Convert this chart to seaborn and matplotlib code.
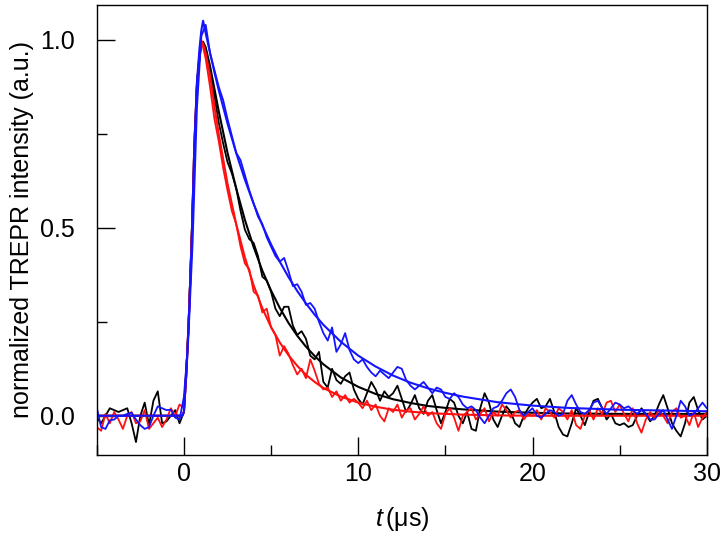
import numpy as np
import matplotlib
matplotlib.use("Agg")
import matplotlib.pyplot as plt
from matplotlib.ticker import MultipleLocator
import seaborn as sns
import pandas as pd

# time axis of the measured traces (0.25 us steps, -5 .. 30 us)
t = np.arange(141) * 0.25 - 5.0

black = [
    -0.005, -0.020, 0.000, 0.020, 0.015, 0.010, 0.015, 0.020, -0.020, -0.070,
    0.000, 0.035, -0.025, 0.040, 0.065, -0.020, -0.015, 0.000, 0.015, -0.020,
    0.010, 0.220, 0.560, 0.890, 0.990, 0.975, 0.915, 0.850, 0.780, 0.725,
    0.675, 0.645, 0.605, 0.545, 0.495, 0.470, 0.460, 0.425, 0.370, 0.360,
    0.330, 0.285, 0.265, 0.290, 0.290, 0.240, 0.215, 0.225, 0.205, 0.160,
    0.150, 0.170, 0.090, 0.075, 0.125, 0.095, 0.085, 0.105, 0.115, 0.070,
    0.045, 0.030, 0.060, 0.090, 0.070, 0.040, 0.065, 0.050, 0.060, 0.080,
    0.045, 0.010, 0.030, 0.055, 0.020, 0.005, 0.040, 0.055, 0.015, -0.020,
    0.010, 0.045, 0.035, 0.000, -0.020, 0.010, -0.035, -0.040, 0.020, 0.060,
    0.035, -0.010, -0.030, 0.000, 0.025, 0.010, -0.020, -0.030, 0.000, 0.020,
    0.035, 0.045, 0.020, 0.025, 0.045, 0.010, -0.030, -0.050, -0.055, -0.020,
    0.020, 0.000, -0.025, 0.010, 0.040, 0.045, 0.020, -0.010, 0.005, -0.020,
    -0.025, -0.020, -0.030, -0.025, 0.000, 0.020, 0.005, -0.015, 0.000, 0.030,
    0.055, 0.020, -0.020, -0.040, -0.055, -0.020, 0.035, 0.050, 0.015, -0.010,
    0.000,
]

blue = [
    0.022, -0.030, -0.035, -0.012, -0.010, 0.000, 0.000, 0.005, 0.008, -0.010,
    -0.025, -0.035, -0.030, 0.000, 0.025, 0.020, 0.015, 0.016, -0.005, -0.010,
    0.050, 0.200, 0.460, 0.820, 1.010, 1.040, 0.965, 0.920, 0.875, 0.840,
    0.790, 0.745, 0.700, 0.680, 0.640, 0.600, 0.565, 0.530, 0.510, 0.475,
    0.450, 0.425, 0.410, 0.420, 0.385, 0.345, 0.350, 0.330, 0.295, 0.300,
    0.285, 0.250, 0.220, 0.200, 0.235, 0.170, 0.190, 0.220, 0.175, 0.150,
    0.140, 0.150, 0.130, 0.115, 0.105, 0.120, 0.110, 0.100, 0.115, 0.130,
    0.125, 0.095, 0.080, 0.070, 0.080, 0.090, 0.075, 0.060, 0.075, 0.070,
    0.050, 0.045, 0.060, 0.050, 0.030, 0.020, 0.025, 0.015, -0.005, -0.020,
    0.000, 0.020, 0.025, 0.040, 0.060, 0.070, 0.050, 0.015, 0.000, 0.010,
    0.020, 0.000, -0.005, 0.005, 0.015, 0.010, 0.000, 0.005, 0.040, 0.055,
    0.030, 0.010, 0.005, 0.015, 0.035, 0.040, 0.020, 0.005, 0.020, 0.035,
    0.030, 0.020, 0.025, 0.015, 0.005, 0.015, 0.005, -0.010, -0.010, 0.005,
    0.015, -0.010, -0.035, 0.000, 0.040, 0.025, 0.000, 0.005, 0.020, 0.035,
    0.020,
]

red = [
    -0.030, -0.040, 0.005, -0.020, 0.010, -0.010, -0.035, 0.000, 0.010, -0.020,
    -0.015, 0.015, -0.035, -0.020, -0.005, -0.030, -0.010, 0.020, 0.000, 0.030,
    0.020, 0.220, 0.550, 0.880, 1.000, 0.950, 0.875, 0.790, 0.730, 0.660,
    0.600, 0.545, 0.510, 0.450, 0.405, 0.390, 0.330, 0.320, 0.275, 0.285,
    0.235, 0.215, 0.160, 0.185, 0.165, 0.135, 0.110, 0.125, 0.100, 0.150,
    0.120, 0.085, 0.070, 0.075, 0.050, 0.065, 0.040, 0.055, 0.035, 0.045,
    0.035, 0.020, 0.040, 0.015, 0.030, 0.000, -0.015, 0.020, 0.010, 0.030,
    -0.005, 0.015, 0.020, -0.010, 0.005, 0.025, 0.000, 0.010, -0.020, -0.035,
    0.005, 0.020, -0.005, -0.040, 0.000, 0.010, 0.020, -0.010, 0.005, 0.020,
    -0.015, 0.010, 0.000, 0.030, 0.015, -0.005, 0.010, 0.015, -0.010, 0.005,
    0.000, 0.015, -0.010, 0.020, 0.010, -0.005, 0.020, 0.010, -0.010, 0.015,
    -0.025, -0.035, 0.000, 0.015, -0.010, 0.020, 0.005, 0.035, 0.040, 0.010,
    0.030, 0.005, -0.015, 0.020, -0.020, -0.045, -0.010, 0.010, -0.005, 0.015,
    0.000, -0.020, 0.010, 0.020, -0.005, 0.000, -0.025, 0.010, -0.030, -0.005,
    0.010,
]

# fitted curves
fit_t = [-5, -0.1, 0, 0.15, 0.3, 0.45, 0.6, 0.75, 0.9, 1.0, 1.1, 1.25, 1.5, 1.75,
         2.0, 2.5, 3.0, 3.5, 4.0, 4.5, 5.0, 5.5, 6.0, 6.5, 7.0, 7.5, 8.0, 9.0,
         10, 11, 12, 13, 14, 15, 16, 18, 20, 22, 25, 30]
fit_black = [0.0, 0.0, 0.01, 0.12, 0.28, 0.47, 0.72, 0.88, 0.96, 0.99, 0.995, 0.98,
             0.93, 0.87, 0.81, 0.70, 0.605, 0.521, 0.449, 0.386, 0.333, 0.287,
             0.247, 0.213, 0.184, 0.159, 0.137, 0.102, 0.077, 0.058, 0.044, 0.034,
             0.026, 0.021, 0.017, 0.011, 0.008, 0.006, 0.005, 0.005]
fit_blue = [0.0, 0.0, 0.01, 0.12, 0.28, 0.47, 0.72, 0.89, 0.98, 1.025, 1.051, 1.018,
            0.965, 0.914, 0.866, 0.778, 0.699, 0.628, 0.564, 0.507, 0.456, 0.41,
            0.369, 0.332, 0.299, 0.269, 0.242, 0.197, 0.16, 0.131, 0.107, 0.088,
            0.073, 0.061, 0.051, 0.036, 0.027, 0.021, 0.016, 0.012]
fit_red = [0.0, 0.0, 0.01, 0.12, 0.28, 0.47, 0.72, 0.88, 0.965, 0.995, 0.99, 0.965,
           0.905, 0.824, 0.749, 0.618, 0.51, 0.421, 0.347, 0.286, 0.236, 0.195,
           0.161, 0.133, 0.109, 0.09, 0.074, 0.051, 0.035, 0.024, 0.016, 0.011,
           0.007, 0.005, 0.003, 0.001, 0.0, 0.0, 0.0, 0.0]

sns.set_style("ticks")
plt.rcParams["font.family"] = ["Liberation Sans", "DejaVu Sans"]
plt.rcParams["mathtext.fontset"] = "custom"
plt.rcParams["mathtext.it"] = "Liberation Sans:italic"
plt.rcParams["mathtext.rm"] = "Liberation Sans"
plt.rcParams["text.color"] = "black"
plt.rcParams["axes.labelcolor"] = "black"
plt.rcParams["xtick.color"] = "black"
plt.rcParams["ytick.color"] = "black"
plt.rcParams["axes.edgecolor"] = "black"

fig = plt.figure(figsize=(7.22, 5.5), dpi=100)
ax = fig.add_axes([0.134, 0.173, 0.845, 0.818])

colors = {"black": "#000000", "red": "#ff1010", "blue": "#1414ff"}
traces = {"black": black, "red": red, "blue": blue}
fits = {"black": fit_black, "red": fit_red, "blue": fit_blue}

for name in ["black", "red", "blue"]:
    df = pd.DataFrame({"t": t, "y": traces[name]})
    sns.lineplot(data=df, x="t", y="y", color=colors[name], lw=1.3,
                 estimator=None, sort=False, ax=ax)
    dff = pd.DataFrame({"t": fit_t, "y": fits[name]})
    sns.lineplot(data=dff, x="t", y="y", color=colors[name], lw=1.5,
                 estimator=None, sort=False, ax=ax)

ax.set_xlim(-5, 30)
ax.set_ylim(-0.104, 1.093)
ax.xaxis.set_major_locator(MultipleLocator(10))
ax.xaxis.set_minor_locator(MultipleLocator(5))
ax.yaxis.set_minor_locator(MultipleLocator(0.25))
ax.set_yticks([0.0, 0.5, 1.0])
ax.set_yticklabels(["0.0", "0.5", "1.0"])
ax.tick_params(which="major", direction="in", length=13, width=1.0, labelsize=18)
ax.tick_params(which="minor", direction="in", length=7, width=1.0)
ax.tick_params(axis="x", which="major", pad=5)
ax.tick_params(axis="y", which="major", pad=16)
for s in ax.spines.values():
    s.set_linewidth(1.0)

ax.set_xlabel(r"$t\,$(μs)", fontsize=18, labelpad=14)
ax.set_ylabel("normalized TREPR intensity (a.u.)", fontsize=18, labelpad=4)

fig.savefig("out.png", dpi=100)
